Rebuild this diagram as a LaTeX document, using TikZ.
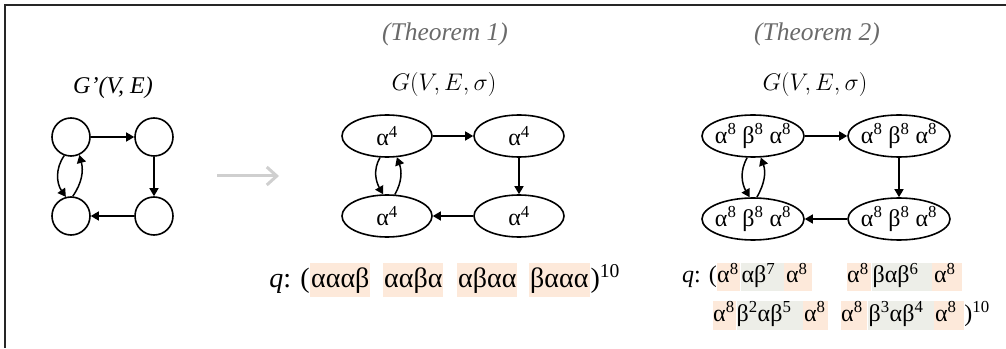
\RequirePackage{fix-cm}
\documentclass[tikz,border=0pt]{standalone}
\usepackage{fontspec}
\setmainfont{Liberation Serif}
\usetikzlibrary{shapes.geometric,arrows.meta}
\definecolor{peach}{HTML}{FDE9DA}
\definecolor{sage}{HTML}{EDEEE8}
\definecolor{thgray}{HTML}{6A6A6A}
\definecolor{arrgray}{HTML}{CFCFCF}
\newcommand\sups[1]{\textsuperscript{#1}}
\newcommand\hb[2]{\makebox[#1][l]{#2}}
\begin{document}
\begin{tikzpicture}[x=1pt,y=1pt,
  every node/.style={font=\fontsize{24}{28}\selectfont},
  vcirc/.style={circle,draw,line width=1.6pt,minimum size=38pt,inner sep=0pt},
  vell/.style={ellipse,draw,line width=1.6pt,minimum width=90pt,minimum height=42pt,inner sep=0pt},
  vellw/.style={vell,minimum width=102pt},
  conn/.style={line width=1.5pt,-{Triangle[length=8pt,width=9pt]}},
  thm/.style={text=thgray,font=\fontsize{25.5}{30}\selectfont\itshape},
  qbig/.style={inner sep=0pt,font=\fontsize{28}{32}\selectfont},
  hpa/.style={qbig,anchor=base west,fill=peach,text height=25pt,text depth=9pt},
  qsm/.style={inner sep=0pt,font=\fontsize{24}{28}\selectfont},
  hpb/.style={qsm,anchor=base west,fill=peach,text height=20pt,text depth=8pt},
  hgb/.style={qsm,anchor=base west,fill=sage,text height=20pt,text depth=8pt},
  hpc/.style={qsm,anchor=base west,fill=peach,text height=20pt,text depth=9pt},
  hgc/.style={qsm,anchor=base west,fill=sage,text height=20pt,text depth=9pt}]
\useasboundingbox (0,0) rectangle (1006,348);
% frame
\draw[line width=1.6pt,black!85] (1006,343) -- (5,343) -- (5,0);

% left graph
\node (gl) at (113,260) {\itshape G'(V, E)};
\node[vcirc] (a1) at (71,211) {};
\node[vcirc] (a2) at (154,211) {};
\node[vcirc] (a3) at (154,132) {};
\node[vcirc] (a4) at (71,132) {};
\draw[conn] (a1) -- (a2);
\draw[conn] (a2) -- (a3);
\draw[conn] (a3) -- (a4);
\draw[conn] (a1.250) to[out=235,in=125] (a4.105);
\draw[conn] (a4.85) to[out=55,in=-75] (a1.295);

% transition arrow
\coordinate (ga) at (217,172);
\coordinate (gb) at (279,172);
\draw[line width=3pt,arrgray,-{Straight Barb[length=10pt,width=18pt]}] (ga) -- (gb);

% middle graph
\node[thm] (t1) at (445,314) {(Theorem 1)};
\node (g1) at (444,263) {$G(V,E,\sigma)$};
\node[vell,label={center:α\sups{4}}] (b1) at (387,212) {};
\node[vell,label={center:α\sups{4}}] (b2) at (519,212) {};
\node[vell,label={center:α\sups{4}}] (b3) at (519,132) {};
\node[vell,label={center:α\sups{4}}] (b4) at (387,132) {};
\draw[conn] (b1) -- (b2);
\draw[conn] (b2) -- (b3);
\draw[conn] (b3) -- (b4);
\draw[conn] (b1.252) to[out=240,in=120] (b4.100);
\draw[conn] (b4.70) to[out=60,in=-70] (b1.295);

% middle sequence
\node[hpa] (m1) at (310,60) {\hb{60pt}{\hspace{1pt}αααβ}};
\node[hpa] (m2) at (383,60) {\hb{60pt}{\hspace{1pt}ααβα}};
\node[hpa] (m3) at (457,60) {\hb{60pt}{\hspace{1pt}αβαα}};
\node[hpa] (m4) at (529,60) {\hb{61pt}{\hspace{1pt}βααα}};
\node[qbig,anchor=base east] (m0) at (m1.base west) {\textit{q}: (};
\node[qbig,anchor=base west] (m5) at (m4.base east) {)\sups{10}};

% right graph
\node[thm] (t2) at (817,314) {(Theorem 2)};
\node (g2) at (815,263) {$G(V,E,\sigma)$};
\node[vellw,label={center:α\sups{8} β\sups{8} α\sups{8}}] (c1) at (753,212) {};
\node[vellw,label={center:α\sups{8} β\sups{8} α\sups{8}}] (c2) at (899,212) {};
\node[vellw,label={center:α\sups{8} β\sups{8} α\sups{8}}] (c3) at (899,129) {};
\node[vellw,label={center:α\sups{8} β\sups{8} α\sups{8}}] (c4) at (753,129) {};
\draw[conn] (c1) -- (c2);
\draw[conn] (c2) -- (c3);
\draw[conn] (c3) -- (c4);
\draw[conn] (c1.255) to[out=240,in=120] (c4.99);
\draw[conn] (c4.80) to[out=60,in=-70] (c1.290);

% right sequence, line 1
\node[hpb] (r1) at (717,65) {\hb{23pt}{α\sups{8}}};
\node[hgb] (r2) at (r1.base east) {\hb{43pt}{\hspace{1pt}αβ\sups{7}}};
\node[hpb] (r3) at (r2.base east) {\hb{28pt}{\hspace{2pt}α\sups{8}}};
\node[qsm,anchor=base east] (r0) at (r1.base west) {\textit{q}: (};
\node[hpb] (r4) at (847,65) {\hb{24pt}{α\sups{8}}};
\node[hgb] (r5) at (r4.base east) {\hb{60pt}{\hspace{1pt}βαβ\sups{6}}};
\node[hpb] (r6) at (r5.base east) {\hb{30pt}{\hspace{2pt}α\sups{8}}};
% right sequence, line 2
\node[hpc] (s1) at (713,27) {\hb{23pt}{α\sups{8}}};
\node[hgc] (s2) at (s1.base east) {\hb{66pt}{β\sups{2}αβ\sups{5}}};
\node[hpc] (s3) at (s2.base east) {\hb{25pt}{\hspace{1pt}α\sups{8}}};
\node[hpc] (s4) at (841,27) {\hb{26pt}{α\sups{8}}};
\node[hgc] (s5) at (s4.base east) {\hb{66pt}{\hspace{1pt}β\sups{3}αβ\sups{4}}};
\node[hpc] (s6) at (s5.base east) {\hb{30pt}{\hspace{1pt}α\sups{8}}};
\node[qsm,anchor=base west] (s7) at (s6.base east) {)\sups{10}};
\end{tikzpicture}
\end{document}
